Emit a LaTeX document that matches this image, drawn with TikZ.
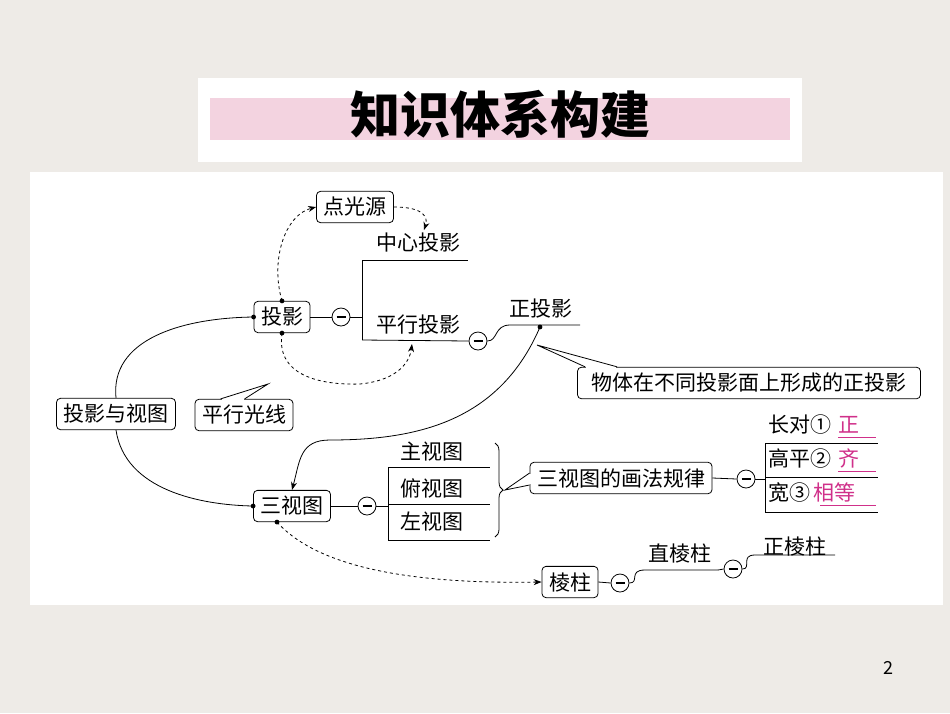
\documentclass[tikz,border=0pt]{standalone}
\usepackage{fontspec}
\setmainfont{Noto Sans CJK SC}
\usetikzlibrary{arrows.meta,decorations.pathreplacing}
\definecolor{bg}{HTML}{EEEBE7}
\definecolor{pinkb}{HTML}{F3D3E0}
\definecolor{mag}{HTML}{D0308A}
\tikzset{
  bx/.style={draw,rounded corners=4pt,thick,font=\fontsize{21}{21}\selectfont,inner xsep=7pt,inner ysep=6pt,fill=white},
  tx/.style={font=\fontsize{21}{21}\selectfont,inner sep=1pt},
  ln/.style={thick},
  dsh/.style={thick,dashed,-{Stealth[length=8pt]}},
  dt/.style={circle,fill,inner sep=1.7pt},
}
\newcommand{\mc}[2]{\node[circle,draw,thick,minimum size=18pt,inner sep=0,fill=white] (#1) at #2 {}; \draw[line width=2.4pt] ([xshift=-4.5pt]#1.center) -- ([xshift=4.5pt]#1.center);}
\begin{document}
\begin{tikzpicture}[x=1pt,y=-1pt]
\fill[bg] (0,0) rectangle (950,713);
\useasboundingbox (0,0) rectangle (950,713);
% title
\fill[white] (198,78) rectangle (802,162);
\fill[pinkb] (210,98) rectangle (790,140);
\node[font=\fontsize{50}{50}\selectfont\bfseries] (title) at (500,114) {知识体系构建};
% panel
\fill[white] (30,172) rectangle (943,605);
% nodes
\node[bx] (dgy) at (355,207) {点光源};
\node[tx] (zxty) at (418,243) {中心投影};
\node[bx] (ty) at (282,317) {投影};
\mc{m1}{(341,317)}
\node[tx] (pxty) at (418,325) {平行投影};
\mc{m2}{(478,341)}
\node[tx] (zty) at (541,309) {正投影};
\node[bx,inner xsep=14pt] (wt) at (749,383) {物体在不同投影面上形成的正投影};
\node[bx] (tysy) at (116,414) {投影与视图};
\node[bx] (pxgx) at (244,415) {平行光线};
\node[bx] (sst) at (292,506) {三视图};
\mc{m3}{(367,506)}
\node[tx] (zst) at (432,452) {主视图};
\node[tx] (fst) at (432,488) {俯视图};
\node[tx] (zuost) at (432,522) {左视图};
\node[bx] (gl) at (621,478) {三视图的画法规律};
\mc{m4}{(746,479)}
\node[tx,anchor=west] (r1) at (767,425) {长对①\,\textcolor{mag}{\,正}};
\node[tx,anchor=west] (r2) at (767,459) {高平②\,\textcolor{mag}{\,齐}};
\node[tx,anchor=west] (r3) at (767,493) {宽③\,\textcolor{mag}{相等}};
\node[bx] (lz) at (570,582) {棱柱};
\mc{m5}{(620,583)}
\node[tx] (zlz) at (680,553) {直棱柱};
\mc{m6}{(733,569)}
\node[tx] (zhlz) at (795,546) {正棱柱};
\node[font=\fontsize{18}{18}\selectfont] (pg) at (888,668) {2};
% magenta underlines
\draw[mag,thick] (838,437) -- (876,437);
\draw[mag,thick] (838,471) -- (876,471);
\draw[mag,thick] (820,505) -- (876,505);
% coordinates
\coordinate (v1t) at (362,260); \coordinate (v1b) at (362,340);
\coordinate (zxe) at (468,260); \coordinate (pxe) at (468,340);
\coordinate (zts) at (510,325); \coordinate (zte) at (580,325);
\coordinate (ztd) at (540,327);
\coordinate (v2t) at (388,467); \coordinate (v2b) at (388,540);
\coordinate (v3t) at (765,443); \coordinate (v3b) at (765,512);
% projection tree
\draw[ln] (ty.east) -- (m1.west);
\draw[ln] (m1.east) -- (362,317);
\draw[ln] (v1t) -- (v1b);
\draw[ln] (v1t) -- (zxe);
\draw[ln] (v1b) -- (m2.west);
\draw[ln] (m2.east) .. controls (498,341) and (494,325) .. (zts) -- (zte);
\node[dt] at (ztd) {};
% callout for wt
\draw[thick,fill=white] ([xshift=40pt]wt.north west) -- (537,345) -- ([xshift=8pt]wt.north west);
\draw[white,line width=1.8pt] ([xshift=9pt,yshift=-0.6pt]wt.north west) -- ([xshift=39pt,yshift=-0.6pt]wt.north west);
% dashed
\node[dt] at (ty.north) {};
\draw[dsh] (ty.north) .. controls (270,260) and (285,215) .. (dgy.west);
\draw[dsh] (dgy.east) .. controls (425,207) and (428,218) .. (424,230);
\node[dt] at (ty.south) {};
\draw[dsh] (ty.south) .. controls (275,380) and (330,385) .. (360,384) .. controls (400,380) and (410,360) .. (412,344);
\draw[thick,fill=white] ([xshift=26pt]pxgx.north west) -- (268,384) -- ([xshift=50pt]pxgx.north west);
\draw[white,line width=1.8pt] ([xshift=27pt,yshift=-0.6pt]pxgx.north west) -- ([xshift=49pt,yshift=-0.6pt]pxgx.north west);
% tysy curves
\node[dt] at (ty.west) {};
\draw[ln] (tysy.north) .. controls (110,340) and (180,318) .. (ty.west);
\node[dt] at (sst.west) {};
\draw[ln] (tysy.south) .. controls (125,490) and (200,505) .. (sst.west);
% arrow from 正投影 to 三视图
\draw[ln,-{Stealth[length=8pt]}] (ztd) .. controls (500,420) and (420,440) .. (330,440) .. controls (300,440) and (300,460) .. (sst.north);
% three views
\draw[ln] (m3.west) -- (sst.east);
\draw[ln] (m3.east) -- (388,506);
\draw[ln] (v2t) -- (v2b);
\draw[ln] (v2t) -- (490,467);
\draw[ln] (388,504) -- (490,504);
\draw[ln] (v2b) -- (490,540);
\draw[ln,decorate,decoration={brace,amplitude=8pt}] (495,443) -- (495,537);
\draw[thick,fill=white] ([yshift=-7pt]gl.west) -- (505,490) -- ([yshift=5pt]gl.west);
\draw[white,line width=1.8pt] ([xshift=0.6pt,yshift=-6pt]gl.west) -- ([xshift=0.6pt,yshift=4pt]gl.west);
\draw[ln] (gl.east) -- (m4.west);
\draw[ln] (m4.east) -- (765,479);
\draw[ln] (v3t) -- (v3b);
\draw[ln] (v3t) -- (878,443);
\draw[ln] (765,477) -- (878,477);
\draw[ln] (v3b) -- (878,512);
% prism
\node[dt] at ([xshift=-15pt]sst.south) {};
\draw[dsh] ([xshift=-15pt]sst.south) .. controls (320,570) and (420,584) .. (lz.west);
\draw[ln] (lz.east) -- (m5.west);
\draw[ln] (m5.east) .. controls (640,583) and (628,570) .. (645,570) -- (718,570);
\draw[ln] (718,570) -- (m6.west);
\draw[ln] (m6.east) .. controls (752,569) and (740,555) .. (755,555) -- (835,555);
\end{tikzpicture}
\end{document}
